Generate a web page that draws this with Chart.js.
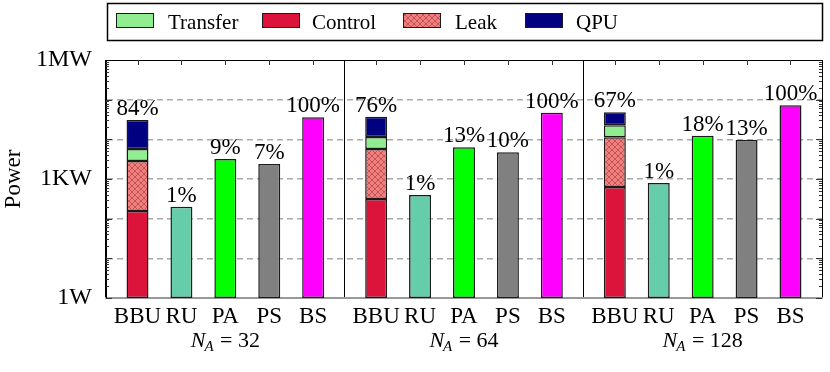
<!DOCTYPE html>
<html>
<head>
<meta charset="utf-8">
<script src="https://cdn.jsdelivr.net/npm/chart.js@4.4.1/dist/chart.umd.min.js"></script>
<style>
  html, body { margin: 0; padding: 0; background: #fff; }
  #wrap { width: 830px; height: 372px; }
</style>
</head>
<body>
<div id="wrap"><canvas id="chart" width="830" height="372"></canvas></div>
<script>
// --- Data (watts) ---
const groups = ['32', '64', '128'];
const units = ['BBU', 'RU', 'PA', 'PS', 'BS'];
const control = [155, 313, 628];
const leak = [2680, 5390, 10600];
const transfer = [2865, 5730, 11320];
const qpu = [25000, 25770, 25450];
const ru = [200, 395, 792];
const pa = [3190, 6290, 12310];
const ps = [2390, 4700, 9620];
const bs = [35900, 46950, 71960];
const shares = [[84, 1, 9, 7, 100], [76, 1, 13, 10, 100], [67, 1, 18, 13, 100]];
const yTicks = [1, 10, 100, 1000, 10000, 100000, 1000000];
const yTickLabels = { 1: '1W', 1000: '1KW', 1000000: '1MW' };

const FONT = '"Liberation Serif", "DejaVu Serif", serif';
const canvas = document.getElementById('chart');
const ctx = canvas.getContext('2d');

// crosshatch fill for the Leak part
function makeHatch() {
    const c = document.createElement('canvas');
    c.width = 6; c.height = 6;
    const g = c.getContext('2d');
    g.fillStyle = '#F08080';
    g.fillRect(0, 0, 6, 6);
    g.strokeStyle = '#b04040';
    g.lineWidth = 0.7;
    g.beginPath();
    g.moveTo(0, 0); g.lineTo(6, 6);
    g.moveTo(6, 0); g.lineTo(0, 6);
    g.stroke();
    return ctx.createPattern(c, 'repeat');
}
const hatch = makeHatch();

const bar = (label, data, color, stack) => ({
    label, data, stack,
    backgroundColor: color,
    borderColor: '#1a1a1a',
    borderWidth: 1.5,
    borderSkipped: false,
    categoryPercentage: 0.92,
    barPercentage: 0.5
});

const datasets = [
    bar('Control', control, '#DC143C', 'bbu'),
    bar('Leak', leak, hatch, 'bbu'),
    bar('Transfer', transfer, '#90EE90', 'bbu'),
    bar('QPU', qpu, '#000080', 'bbu'),
    bar('RU', ru, '#66CDAA', 'ru'),
    bar('PA', pa, '#00FF00', 'pa'),
    bar('PS', ps, '#808080', 'ps'),
    bar('BS', bs, '#FF00FF', 'bs')
];
// dataset that sits on top of each of the 5 stacks
const topOfStack = [3, 4, 5, 6, 7];

const legendItems = [
    { label: 'Transfer', color: '#90EE90', box: 116, text: 168 },
    { label: 'Control', color: '#DC143C', box: 262, text: 312 },
    { label: 'Leak', color: hatch, box: 403, text: 455 },
    { label: 'QPU', color: '#000080', box: 525, text: 576 }
];

const decorations = {
    id: 'decorations',
    afterDraw(chart) {
        const c = chart.ctx;
        const area = chart.chartArea;
        const x = chart.scales.x;
        const y = chart.scales.y;
        c.save();

        // top frame
        c.strokeStyle = '#000';
        c.lineWidth = 1;
        c.beginPath();
        c.moveTo(area.left, area.top + 0.5);
        c.lineTo(area.right, area.top + 0.5);
        c.stroke();

        // log ticks on left and right borders
        c.strokeStyle = '#333';
        c.beginPath();
        for (let d = 0; d < 6; d++) {
            for (let m = 1; m < 10; m++) {
                const py = Math.round(y.getPixelForValue(m * Math.pow(10, d))) + 0.5;
                const len = m === 1 ? 6 : 3;
                c.moveTo(area.left, py); c.lineTo(area.left + len, py);
                c.moveTo(area.right, py); c.lineTo(area.right - len, py);
            }
        }
        c.stroke();

        // mirrored ticks at the top, one per bar
        c.beginPath();
        topOfStack.forEach(di => {
            chart.getDatasetMeta(di).data.forEach(el => {
                const px = Math.round(el.x) + 0.5;
                c.moveTo(px, area.top); c.lineTo(px, area.top + 5);
            });
        });
        c.stroke();

        // share labels above bars, unit names below
        c.fillStyle = '#000';
        c.textAlign = 'center';
        c.textBaseline = 'alphabetic';
        topOfStack.forEach((di, k) => {
            chart.getDatasetMeta(di).data.forEach((el, g) => {
                c.font = '23px ' + FONT;
                c.fillText(shares[g][k] + '%', el.x, el.y - 5);
                c.font = '23px ' + FONT;
                c.fillText(units[k], el.x, 323);
            });
        });

        // group labels: N_A = ...
        groups.forEach((n, g) => {
            const cx = x.getPixelForValue(g);
            const rest = ' = ' + n;
            c.font = 'italic 22px ' + FONT;
            const wN = c.measureText('N').width;
            c.font = 'italic 15px ' + FONT;
            const wA = c.measureText('A').width;
            c.font = '22px ' + FONT;
            const wR = c.measureText(rest).width;
            const sx = cx - (wN + wA + wR) / 2;
            c.textAlign = 'left';
            c.font = 'italic 22px ' + FONT;
            c.fillText('N', sx, 347);
            c.font = 'italic 15px ' + FONT;
            c.fillText('A', sx + wN - 1, 351);
            c.font = '22px ' + FONT;
            c.fillText(rest, sx + wN + wA, 347);
        });

        // y axis title
        c.save();
        c.translate(14, (area.top + area.bottom) / 2);
        c.rotate(-Math.PI / 2);
        c.textAlign = 'center';
        c.textBaseline = 'middle';
        c.font = '23px ' + FONT;
        c.fillText('Power', 0, 0);
        c.restore();

        // legend box
        c.strokeStyle = '#000';
        c.lineWidth = 1.5;
        c.strokeRect(107.5, 3.5, 715, 37);
        c.lineWidth = 1;
        c.font = '21px ' + FONT;
        c.textAlign = 'left';
        legendItems.forEach(it => {
            c.fillStyle = it.color;
            c.fillRect(it.box, 13, 38, 15);
            c.strokeStyle = '#1a1a1a';
            c.strokeRect(it.box + 0.5, 13.5, 37, 14);
            c.fillStyle = '#000';
            c.fillText(it.label, it.text, 29);
        });

        c.restore();
    }
};

new Chart(ctx, {
    type: 'bar',
    data: {
        labels: groups,
        datasets
    },
    options: {
        responsive: false,
        animation: false,
        devicePixelRatio: 1,
        layout: { padding: { top: 60, right: 8, left: 0, bottom: 0 } },
        plugins: {
            legend: { display: false },
            tooltip: { enabled: false }
        },
        scales: {
            x: {
                stacked: true,
                offset: true,
                grid: { offset: true, color: '#000', lineWidth: 1, drawTicks: false },
                border: { color: '#999', width: 2 },
                ticks: { display: false },
                afterFit: s => { s.height = 74; }
            },
            y: {
                type: 'logarithmic',
                stacked: true,
                min: 1,
                max: 1000000,
                afterBuildTicks: s => { s.ticks = yTicks.map(v => ({ value: v })); },
                ticks: {
                    padding: 14,
                    color: '#000',
                    font: { family: FONT, size: 24 },
                    callback: v => yTickLabels[v] || ''
                },
                grid: {
                    drawTicks: false,
                    lineWidth: 1.5,
                    color: c => (c.tick && (c.tick.value === 1 || c.tick.value === 1000000)) ? 'rgba(0,0,0,0)' : '#aaa'
                },
                border: { color: '#000', width: 1, dash: [6, 4] },
                afterFit: s => { s.width = 106; }
            }
        }
    },
    plugins: [decorations]
});
</script>
</body>
</html>
